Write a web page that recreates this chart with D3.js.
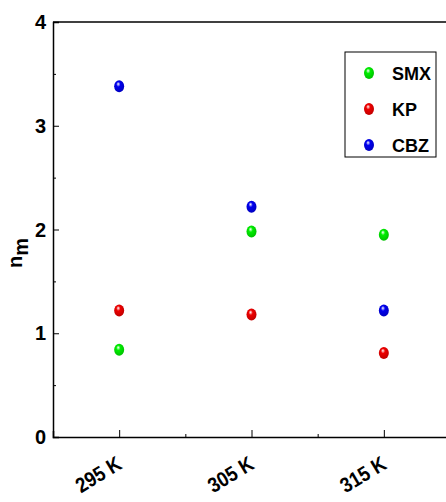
<!DOCTYPE html>
<html>
<head>
<meta charset="utf-8">
<script src="https://cdn.jsdelivr.net/npm/d3@7"></script>
<style>
  body { margin: 0; background: #fff; }
  text { font-family: "Liberation Sans", Arial, sans-serif; font-weight: bold; }
</style>
</head>
<body>
<div id="chart"></div>
<script>
// values
var temps = [295, 305, 315];
var tempLabels = ["295 K", "305 K", "315 K"];
var seriesNames = ["SMX", "KP", "CBZ"];
var seriesColors = ["#00ee00", "#ee0000", "#0000ee"];
var smx = [0.84, 1.98, 1.95];
var kp = [1.22, 1.18, 0.81];
var cbz = [3.38, 2.22, 1.22];
var yTicks = [0, 1, 2, 3, 4];

var W = 446, H = 502;
var padL = 53, padT = 22, padB = 437, padR = 450;

var svg = d3.select("#chart").append("svg")
	.attr("width", W)
	.attr("height", H);

var x = d3.scaleLinear().domain([290, 320]).range([padL, padR]);
var y = d3.scaleLinear().domain([0, 4]).range([padB, padT]);

// gradients for the shiny balls
var defs = svg.append("defs");
seriesColors.forEach(function(c, i) {
	var g = defs.append("radialGradient")
		.attr("id", "ball" + i)
		.attr("cx", "45%").attr("cy", "40%").attr("r", "60%")
		.attr("fx", "40%").attr("fy", "30%");
	g.append("stop").attr("offset", "0%").attr("stop-color", "#ffffff");
	g.append("stop").attr("offset", "35%").attr("stop-color", c);
	g.append("stop").attr("offset", "100%").attr("stop-color", d3.color(c).darker(0.6));
});

// frame line on top
svg.append("line")
	.attr("x1", padL).attr("x2", W).attr("y1", padT).attr("y2", padT)
	.attr("stroke", "#000").attr("stroke-width", 1.5);

var yAxis = d3.axisLeft(y).tickValues(d3.range(0, 4.01, 0.5))
	.tickSize(-6).tickFormat("");
svg.append("g").attr("transform", "translate(" + padL + ",0)").call(yAxis)
	.call(function(g) {
		g.select(".domain").attr("stroke-width", 1.5);
		g.selectAll(".tick line").attr("x2", function(d) { return d % 1 == 0 ? 6 : 3; });
	});

svg.selectAll(".ylab").data(yTicks).enter().append("text")
	.attr("class", "ylab")
	.attr("x", 46).attr("y", function(d) { return y(d) + 7; })
	.attr("text-anchor", "end")
	.style("font-size", "20px")
	.text(function(d) { return d; });

var xAxis = d3.axisBottom(x).tickValues(d3.range(290, 321, 5))
	.tickSize(-6).tickFormat("");
svg.append("g").attr("transform", "translate(0," + padB + ")").call(xAxis)
	.call(function(g) {
		g.select(".domain").attr("stroke-width", 1.5);
		g.selectAll(".tick line").attr("y2", function(d) { return d % 10 == 5 ? -7 : -3; });
	});

// rotated tick labels, squeezed a bit to look condensed
svg.selectAll(".xlab").data(temps).enter().append("text")
	.attr("class", "xlab")
	.attr("transform", function(d) { return "translate(" + (x(d) + 4) + "," + 468 + ") rotate(-31) scale(0.88,1)"; })
	.attr("text-anchor", "end")
	.style("font-size", "21px")
	.text(function(d, i) { return tempLabels[i]; });

// y label
var yl = svg.append("text")
	.attr("transform", "translate(22,268) rotate(-90)")
	.style("font-size", "20px");
yl.append("tspan").text("n");
yl.append("tspan").attr("dy", 6).text("m");

// points
var all = [smx, kp, cbz];
all.forEach(function(vals, i) {
	svg.selectAll(".pt" + i).data(vals).enter().append("ellipse")
		.attr("cx", function(d, j) { return x(temps[j]); })
		.attr("cy", function(d) { return y(d); })
		.attr("rx", 5).attr("ry", 6)
		.attr("fill", "url(#ball" + i + ")");
});

// legend
var lg = svg.append("g");
lg.append("rect")
	.attr("x", 345).attr("y", 52).attr("width", 91).attr("height", 105)
	.attr("fill", "#fff").attr("stroke", "#000").attr("stroke-width", 1);
seriesNames.forEach(function(n, i) {
	var ly = 73 + i * 36;
	lg.append("ellipse").attr("cx", 369).attr("cy", ly)
		.attr("rx", 5).attr("ry", 6).attr("fill", "url(#ball" + i + ")");
	lg.append("text").attr("x", 392).attr("y", ly + 7)
		.style("font-size", "18px").text(n);
});
</script>
</body>
</html>
